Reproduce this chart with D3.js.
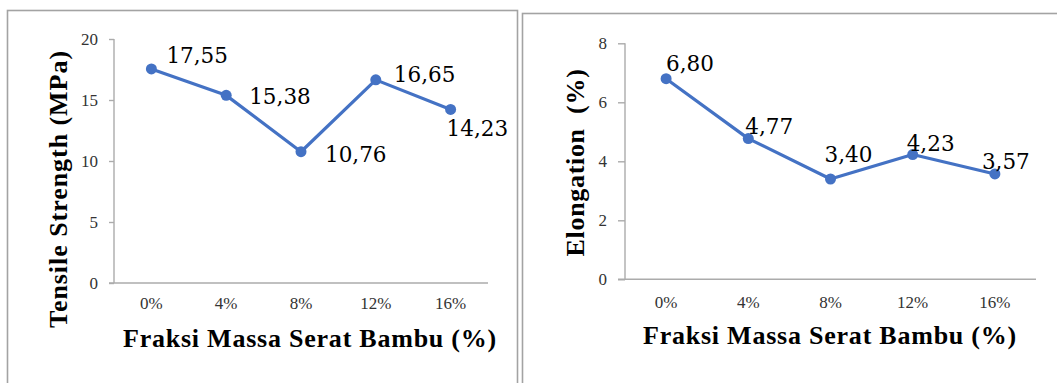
<!DOCTYPE html>
<html>
<head>
<meta charset="utf-8">
<script src="https://cdn.jsdelivr.net/npm/d3@7"></script>
<style>
  html, body { margin: 0; padding: 0; background: #fff; }
  svg { display: block; }
</style>
</head>
<body>
<svg id="chart" width="1057" height="383"></svg>
<script>
// Shared categories: bamboo fibre mass fraction
const categories = ["0%", "4%", "8%", "12%", "16%"];

// Tensile strength (MPa)
const tensileValues = [17.55, 15.38, 10.76, 16.65, 14.23];
const tensileTicks = [0, 5, 10, 15, 20];

// Elongation (%)
const elongationValues = [6.80, 4.77, 3.40, 4.23, 3.57];
const elongationTicks = [0, 2, 4, 6, 8];

const xTitle = "Fraksi Massa Serat Bambu (%)";
const tensileTitle = "Tensile Strength (MPa)";
const elongationTitle = "Elongation  (%)";

// Label placement (offset of the text start/baseline from each point)
const tensileLabelOffsets = [[15, -6], [23, 9], [24, 10], [18, 2], [-4, 27]];
const elongationLabelOffsets = [[0, -8], [-3, -5], [-6, -17], [-6, -4], [-13, -5]];

const svg = d3.select("#chart");
const fmt = v => d3.format(".2f")(v).replace(".", ",");

const LINE = "#4472C4";
const AXIS = "#ababab";
const FRAME = "#a3a3a3";
const TITLE_FONT = "Liberation Serif, Times New Roman, serif";

// Stretch a title to a target length by letter spacing
function fitText(sel, target) {
  const len = sel.node().getComputedTextLength();
  const n = sel.text().length;
  sel.attr("letter-spacing", (target - len) / n);
}

function drawPanel(p) {
  // panel frame
  svg.append("rect")
    .attr("x", p.frame[0]).attr("y", p.frame[1])
    .attr("width", p.frame[2]).attr("height", 420)
    .attr("fill", "none").attr("stroke", FRAME).attr("stroke-width", 1.6);

  const x = d3.scaleBand().domain(p.categories).range([p.x0, p.x1]);
  const y = d3.scaleLinear().domain([0, d3.max(p.ticks)]).range([p.yBot, p.yTop]);

  const g = svg.append("g");

  // y axis
  const yAxis = g.append("g")
    .attr("transform", `translate(${p.x0},0)`)
    .call(d3.axisLeft(y).tickValues(p.ticks).tickSize(p.tickLen).tickPadding(p.tickPad));
  yAxis.select(".domain").attr("stroke", AXIS).attr("stroke-width", 1.4)
    .attr("d", `M0,${p.yTop}V${p.yBot}`);
  yAxis.selectAll(".tick line").attr("stroke", AXIS).attr("stroke-width", 1.4);
  yAxis.selectAll(".tick text")
    .attr("font-family", "Liberation Serif, Times New Roman, serif")
    .attr("font-size", 17).attr("fill", "#333");

  // x axis
  const xAxis = g.append("g")
    .attr("transform", `translate(0,${p.yBot})`)
    .call(d3.axisBottom(x).tickSize(0).tickPadding(0));
  xAxis.select(".domain").attr("stroke", AXIS).attr("stroke-width", 1.4)
    .attr("d", `M${p.x0 - p.tickLen},0H${p.x1}`);
  xAxis.selectAll(".tick text")
    .attr("font-family", "Liberation Serif, Times New Roman, serif")
    .attr("font-size", 17).attr("fill", "#333")
    .attr("y", p.catBaseline - p.yBot).attr("dy", null);

  const pts = p.values.map((v, i) => ({
    cx: x(p.categories[i]) + x.bandwidth() / 2, cy: y(v), v, off: p.offsets[i]
  }));

  // series line
  g.append("path")
    .datum(pts)
    .attr("fill", "none").attr("stroke", LINE).attr("stroke-width", 3.2)
    .attr("stroke-linejoin", "round")
    .attr("d", d3.line().x(d => d.cx).y(d => d.cy));

  // markers
  g.selectAll("circle.pt").data(pts).join("circle")
    .attr("cx", d => d.cx).attr("cy", d => d.cy).attr("r", 5.5)
    .attr("fill", LINE);

  // value labels
  g.selectAll("text.lbl").data(pts).join("text")
    .attr("class", "lbl")
    .attr("x", d => d.cx + d.off[0]).attr("y", d => d.cy + d.off[1])
    .attr("font-family", "DejaVu Serif, serif").attr("font-size", 21.5)
    .attr("fill", "#000")
    .text(d => fmt(d.v));

  // x title
  const xt = g.append("text")
    .attr("x", p.xTitlePos[0]).attr("y", p.xTitlePos[1])
    .attr("text-anchor", "middle")
    .attr("font-family", TITLE_FONT).attr("font-weight", "bold")
    .attr("font-size", 26).attr("fill", "#000")
    .text(xTitle);
  fitText(xt, p.xTitleLen);

  // y title
  const yt = g.append("text")
    .attr("transform", `translate(${p.yTitlePos[0]},${p.yTitlePos[1]}) rotate(-90)`)
    .attr("text-anchor", "middle")
    .attr("font-family", TITLE_FONT).attr("font-weight", "bold")
    .attr("font-size", 26).attr("fill", "#000")
    .attr("xml:space", "preserve")
    .style("white-space", "pre")
    .text(p.yTitle);
  fitText(yt, p.yTitleLen);
}

drawPanel({
  categories, values: tensileValues, ticks: tensileTicks, offsets: tensileLabelOffsets,
  yTitle: tensileTitle,
  frame: [7.5, 10.5, 510],
  x0: 114, x1: 488, yTop: 39, yBot: 283, tickLen: 5, tickPad: 11, catBaseline: 309,
  xTitlePos: [310, 347], xTitleLen: 374,
  yTitlePos: [67, 189], yTitleLen: 278
});

drawPanel({
  categories, values: elongationValues, ticks: elongationTicks, offsets: elongationLabelOffsets,
  yTitle: elongationTitle,
  frame: [522.5, 13.5, 560],
  x0: 625, x1: 1036, yTop: 43.3, yBot: 279.3, tickLen: 7, tickPad: 11, catBaseline: 308,
  xTitlePos: [830, 344], xTitleLen: 374,
  yTitlePos: [584, 162.5], yTitleLen: 188
});
</script>
</body>
</html>
